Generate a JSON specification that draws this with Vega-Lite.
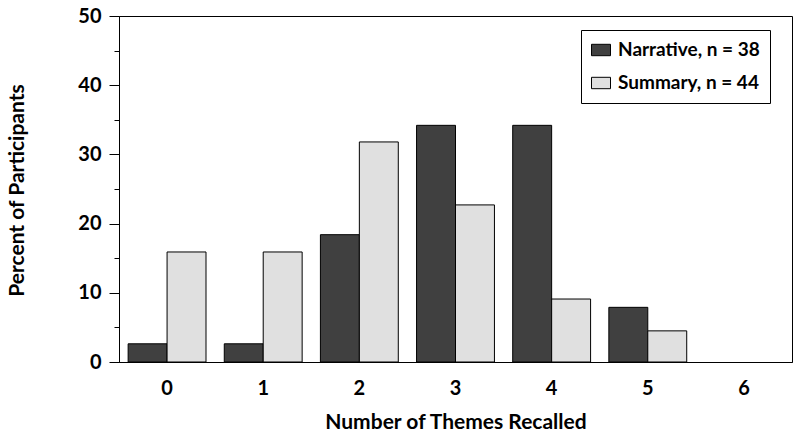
{
  "$schema": "https://vega.github.io/schema/vega-lite/v6.json",
  "width": 673,
  "height": 346,
  "autosize": {"type": "none"},
  "padding": {"left": 119, "top": 16, "right": 8, "bottom": 75},
  "background": "white",
  "config": {
    "font": "Lato",
    "view": {"stroke": "#000000", "strokeWidth": 1}
  },
  "data": {
    "values": [
      {"themes": "0", "group": "Narrative, n = 38", "pct": 2.63},
      {"themes": "0", "group": "Summary, n = 44", "pct": 15.9},
      {"themes": "1", "group": "Narrative, n = 38", "pct": 2.63},
      {"themes": "1", "group": "Summary, n = 44", "pct": 15.9},
      {"themes": "2", "group": "Narrative, n = 38", "pct": 18.4},
      {"themes": "2", "group": "Summary, n = 44", "pct": 31.8},
      {"themes": "3", "group": "Narrative, n = 38", "pct": 34.2},
      {"themes": "3", "group": "Summary, n = 44", "pct": 22.7},
      {"themes": "4", "group": "Narrative, n = 38", "pct": 34.2},
      {"themes": "4", "group": "Summary, n = 44", "pct": 9.1},
      {"themes": "5", "group": "Narrative, n = 38", "pct": 7.9},
      {"themes": "5", "group": "Summary, n = 44", "pct": 4.5},
      {"themes": "6", "group": "Narrative, n = 38", "pct": 0},
      {"themes": "6", "group": "Summary, n = 44", "pct": 0}
    ]
  },
  "mark": {"type": "bar", "stroke": "#000000", "strokeWidth": 1},
  "encoding": {
    "x": {
      "field": "themes",
      "type": "nominal",
      "scale": {"paddingInner": 0.19, "paddingOuter": 0.095},
      "axis": {
        "title": "Number of Themes Recalled",
        "labelAngle": 0,
        "ticks": false,
        "domain": true,
        "domainColor": "#000000",
        "labelFont": "Lato",
        "labelFontSize": 20,
        "labelFontWeight": "bold",
        "labelColor": "#000000",
        "labelPadding": 16,
        "titleFont": "Lato",
        "titleFontSize": 21,
        "titleFontWeight": "bold",
        "titleColor": "#000000",
        "titleBaseline": "middle",
        "titleY": 60
      }
    },
    "xOffset": {"field": "group", "type": "nominal", "sort": ["Narrative, n = 38", "Summary, n = 44"]},
    "y": {
      "field": "pct",
      "type": "quantitative",
      "scale": {"domain": [0, 50], "nice": false},
      "axis": {
        "title": "Percent of Participants",
        "values": [0, 5, 10, 15, 20, 25, 30, 35, 40, 45, 50],
        "labelExpr": "datum.value % 10 === 0 ? datum.label : ''",
        "grid": false,
        "domainColor": "#000000",
        "tickColor": "#000000",
        "tickSize": {"condition": {"test": "datum.value % 10 === 0", "value": 10}, "value": 5},
        "labelFont": "Lato",
        "labelFontSize": 20,
        "labelFontWeight": "bold",
        "labelColor": "#000000",
        "labelPadding": 8,
        "titleFont": "Lato",
        "titleFontSize": 21,
        "titleFontWeight": "bold",
        "titleColor": "#000000",
        "titleBaseline": "middle",
        "titleX": -102,
        "titleY": 174
      }
    },
    "fill": {
      "field": "group",
      "type": "nominal",
      "scale": {"domain": ["Narrative, n = 38", "Summary, n = 44"], "range": ["#404040", "#e0e0e0"]},
      "legend": {
        "title": null,
        "orient": "none",
        "legendX": 462,
        "legendY": 14,
        "strokeColor": "#000000",
        "fillColor": "#ffffff",
        "padding": 10,
        "rowPadding": 13,
        "symbolType": "M-1,-0.6H1V0.6H-1Z",
        "symbolSize": 361,
        "symbolStrokeColor": "#000000",
        "symbolStrokeWidth": 1,
        "labelFont": "Lato",
        "labelFontSize": 19,
        "labelFontWeight": "bold",
        "labelColor": "#000000",
        "labelOffset": 7
      }
    },
    "strokeOpacity": {
      "condition": {"test": "datum.pct === 0", "value": 0},
      "value": 1
    }
  }
}
